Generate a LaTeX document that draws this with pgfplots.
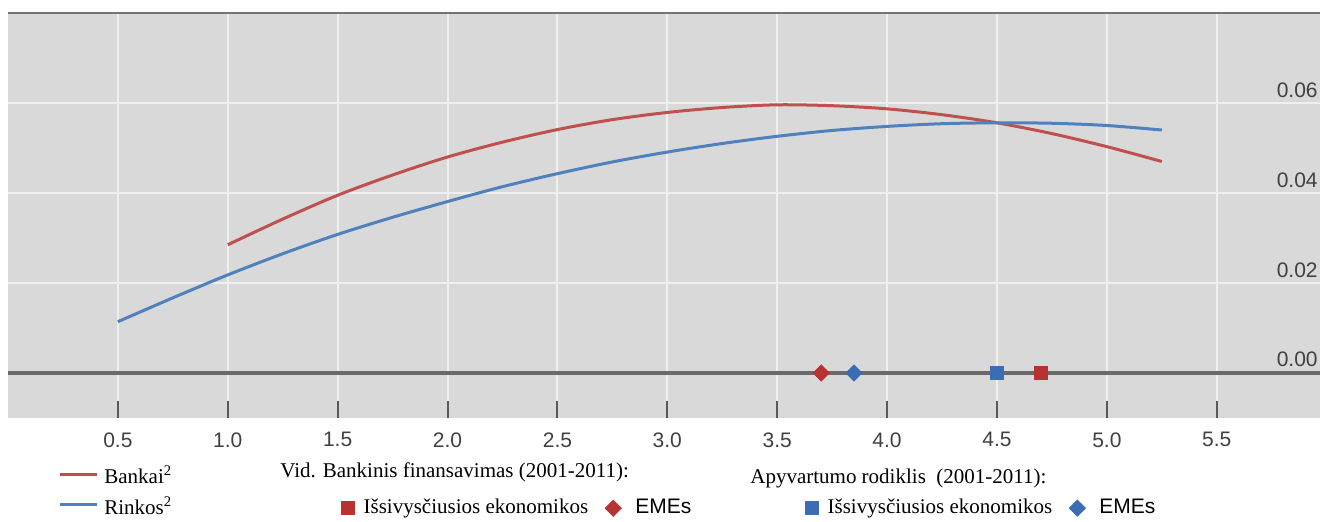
\documentclass[border=0pt]{standalone}
\usepackage{fontspec}
\setmainfont{Liberation Serif}
\setsansfont{Liberation Sans}
\usepackage{pgfplots}
\pgfplotsset{compat=1.18}

\definecolor{bankred}{HTML}{C0504D}
\definecolor{rinkblue}{HTML}{4F81BD}
\definecolor{mkred}{HTML}{B83232}
\definecolor{mkblue}{HTML}{3A6DB5}
\definecolor{bggray}{HTML}{D9D9D9}
\definecolor{gridc}{HTML}{EFEFEF}
\definecolor{zeroline}{HTML}{6A6A6A}

\pgfplotsset{
  myframe/.style={anchor=north west, at={(4pt,-6.5pt)}, width=656pt, height=202.5pt,
    scale only axis, xmin=0, xmax=5.97, ymin=-0.01, ymax=0.08},
  marklegend/.style={legend columns=2,
    legend style={anchor=north west, draw=none, fill=none,
      font=\fontsize{10.5}{12}\selectfont, inner sep=0pt,
      /tikz/column 1/.style={column sep=2.5pt},
      /tikz/column 2/.style={column sep=6.5pt},
      /tikz/column 3/.style={column sep=5pt}},
    legend image code/.code={\draw[##1, /tikz/only marks] plot coordinates {(0pt,0pt)};}},
}

\begin{document}
\begin{tikzpicture}
\path[use as bounding box] (0,0) rectangle (660pt,-260.5pt);
\begin{axis}[myframe,
  clip mode=individual,
  axis background/.style={fill=bggray},
  axis line style={draw=none},
  xtick={0.5,1.0,1.5,2.0,2.5,3.0,3.5,4.0,4.5,5.0,5.5},
  ytick={0,0.02,0.04,0.06},
  scaled y ticks=false,
  grid=major, major grid style={gridc, line width=1pt},
  xtick pos=bottom, tick align=inside, major tick length=8.5pt,
  xtick style={black!65, line width=1pt},
  ytick style={draw=none},
  yticklabel pos=right,
  /pgf/number format/assume math mode=true,
  ticklabel style={font=\sffamily\fontsize{10.5}{12}\selectfont, text=black!75},
  xticklabel style={/pgf/number format/fixed, /pgf/number format/fixed zerofill, /pgf/number format/precision=1, anchor=north, inner sep=0pt, yshift=-7pt},
  yticklabel style={/pgf/number format/fixed, /pgf/number format/fixed zerofill, /pgf/number format/precision=2, anchor=base east, inner sep=0pt, xshift=-1pt, yshift=3pt},
  legend style={at={(0.0381,-0.107)}, anchor=north west, draw=none, fill=none,
    font=\fontsize{10.5}{12}\selectfont, inner sep=0pt, row sep=1pt, column sep=1pt},
  legend cell align=left,
  legend image code/.code={\draw[#1, line width=1.5pt] (0pt,1pt) -- (18.5pt,1pt);},
]
\addplot[bankred, line width=1.5pt, smooth] coordinates {
(1.0,0.0285) (1.25,0.0342) (1.5,0.0395) (1.75,0.0440) (2.0,0.0480) (2.25,0.0513)
(2.5,0.0541) (2.75,0.0563) (3.0,0.0579) (3.25,0.0590) (3.5,0.0596) (3.75,0.0594)
(4.0,0.0587) (4.25,0.0574) (4.5,0.0556) (4.75,0.0532) (5.0,0.0503) (5.25,0.0470)};
\addlegendentry{Bankai\textsuperscript{2}}
\addplot[rinkblue, line width=1.5pt, smooth] coordinates {
(0.5,0.0114) (0.75,0.0167) (1.0,0.0218) (1.25,0.0265) (1.5,0.0308) (1.75,0.0346)
(2.0,0.0381) (2.25,0.0414) (2.5,0.0443) (2.75,0.0469) (3.0,0.0491) (3.25,0.0510)
(3.5,0.0526) (3.75,0.0539) (4.0,0.0548) (4.25,0.0554) (4.5,0.0556) (4.75,0.0555)
(5.0,0.0550) (5.25,0.0540)};
\addlegendentry{Rinkos\textsuperscript{2}}
\addplot[zeroline, line width=2pt, forget plot] coordinates {(0,0) (5.97,0)};
\addplot[only marks, mark=square*, mark size=2.85pt, mark options={rotate=45}, color=mkred, forget plot] coordinates {(3.7,0)};
\addplot[only marks, mark=square*, mark size=2.85pt, mark options={rotate=45}, color=mkblue, forget plot] coordinates {(3.85,0)};
\addplot[only marks, mark=square*, mark size=3.3pt, color=mkblue, forget plot] coordinates {(4.5,0)};
\addplot[only marks, mark=square*, mark size=3.3pt, color=mkred, forget plot] coordinates {(4.7,0)};
\draw[black!55, line width=1.2pt] (rel axis cs:0,1) -- (rel axis cs:1,1);
\node[anchor=base west, font=\fontsize{10.5}{12}\selectfont, inner sep=0pt] at (axis description cs:0.2073,-0.1457) {Vid. Bankinis finansavimas (2001-2011):};
\node[anchor=base west, font=\fontsize{10.5}{12}\selectfont, inner sep=0pt] at (axis description cs:0.5655,-0.1605) {Apyvartumo rodiklis\ \ (2001-2011):};
\end{axis}

\begin{axis}[myframe, hide axis, marklegend,
  legend style={at={(0.2538,-0.190)}},
]
\addlegendimage{mark=square*, mark size=3.3pt, color=mkred}
\addlegendentry{Išsivysčiusios ekonomikos}
\addlegendimage{mark=square*, mark size=2.85pt, mark options={rotate=45}, color=mkred}
\addlegendentry{\sffamily EMEs}
\end{axis}

\begin{axis}[myframe, hide axis, marklegend,
  legend style={at={(0.6075,-0.190)}},
]
\addlegendimage{mark=square*, mark size=3.3pt, color=mkblue}
\addlegendentry{Išsivysčiusios ekonomikos}
\addlegendimage{mark=square*, mark size=2.85pt, mark options={rotate=45}, color=mkblue}
\addlegendentry{\sffamily EMEs}
\end{axis}
\end{tikzpicture}
\end{document}
